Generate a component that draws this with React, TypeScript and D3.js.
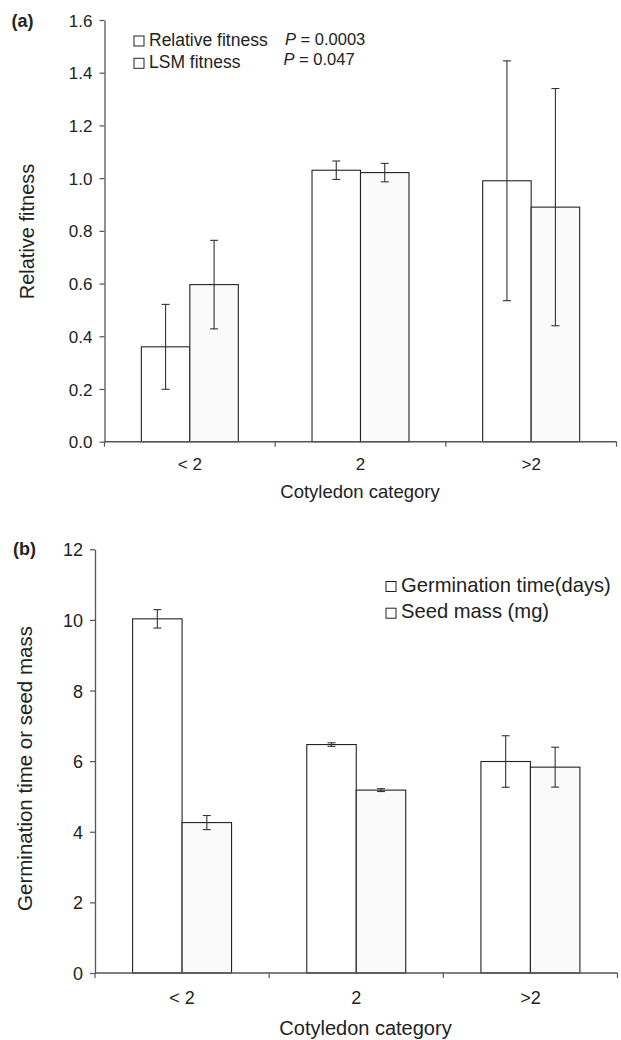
import React, { useRef, useEffect } from 'react'
import * as d3 from 'd3'

// categories on the x axis (shared by both panels)
const categories = ['< 2', '2', '>2']

// panel (a)
const relFitness = [0.36, 1.03, 0.99]
const relFitnessSE = [0.161, 0.035, 0.455]
const lsmFitness = [0.596, 1.021, 0.89]
const lsmFitnessSE = [0.168, 0.035, 0.45]
const fitnessTicks = [0, 0.2, 0.4, 0.6, 0.8, 1.0, 1.2, 1.4, 1.6]
const pValues = ['0.0003', '0.047']

// panel (b)
const germTime = [10.03, 6.47, 5.99]
const germTimeSE = [0.26, 0.05, 0.73]
const seedMass = [4.26, 5.18, 5.83]
const seedMassSE = [0.2, 0.04, 0.565]
const germTicks = [0, 2, 4, 6, 8, 10, 12]

const FONT = '"Liberation Sans", Arial, Helvetica, sans-serif'
const INK = '#222'
const AXIS = '#555'

const drawPanel = (svg, opts) => {
    const { x0, x1, yBottom, yTop, domain, ticks, fmt, series, tickFont, labelDy, title, titleX, titleY, titleSize, yTitle, yTitleX, yTitleY, yTitleSize } = opts

    const x = d3.scaleBand().domain(categories).range([x0, x1]).padding(0)
    const xSub = d3.scaleBand().domain(series.map(s => s.key)).range([0, x.bandwidth()]).paddingInner(0).paddingOuter(0.76)
    const y = d3.scaleLinear().domain(domain).range([yBottom, yTop])

    const g = svg.append('g')

    // bars
    series.forEach(s => {
        g.selectAll(null)
            .data(categories)
            .enter()
            .append('rect')
            .attr('x', c => x(c) + xSub(s.key))
            .attr('y', (c, i) => y(s.values[i]))
            .attr('width', xSub.bandwidth())
            .attr('height', (c, i) => y(0) - y(s.values[i]))
            .attr('fill', s.fill)
            .attr('stroke', INK)
            .attr('stroke-width', 1.1)
    })

    // error bars
    series.forEach(s => {
        categories.forEach((c, i) => {
            const cx = x(c) + xSub(s.key) + xSub.bandwidth() / 2
            const lo = y(s.values[i] - s.se[i])
            const hi = y(s.values[i] + s.se[i])
            const eg = g.append('g').attr('stroke', '#333').attr('stroke-width', 1.1)
            eg.append('line').attr('x1', cx).attr('x2', cx).attr('y1', lo).attr('y2', hi)
            eg.append('line').attr('x1', cx - 4).attr('x2', cx + 4).attr('y1', lo).attr('y2', lo)
            eg.append('line').attr('x1', cx - 4).attr('x2', cx + 4).attr('y1', hi).attr('y2', hi)
        })
    })

    // y axis
    const yAxis = g.append('g')
        .attr('transform', `translate(${x0},0)`)
        .call(d3.axisLeft(y).tickValues(ticks).tickFormat(fmt).tickSize(5).tickSizeOuter(0).tickPadding(7))
    yAxis.select('.domain').attr('stroke', AXIS).attr('stroke-width', 1.3)
    yAxis.selectAll('.tick line').attr('stroke', AXIS).attr('stroke-width', 1.2)
    yAxis.selectAll('.tick text')
        .attr('font-family', FONT)
        .attr('font-size', tickFont)
        .attr('fill', INK)
        .attr('dy', '0.36em')

    // x axis: baseline plus ticks at category boundaries
    const xAxis = g.append('g').attr('stroke', AXIS)
    xAxis.append('line')
        .attr('x1', x0).attr('x2', x1)
        .attr('y1', y(0)).attr('y2', y(0))
        .attr('stroke-width', 1.4)
    const bounds = categories.map(c => x(c)).concat([x1])
    xAxis.selectAll(null)
        .data(bounds)
        .enter()
        .append('line')
        .attr('x1', d => d).attr('x2', d => d)
        .attr('y1', y(0)).attr('y2', y(0) + 5)
        .attr('stroke-width', 1.2)

    g.selectAll(null)
        .data(categories)
        .enter()
        .append('text')
        .attr('x', c => x(c) + x.bandwidth() / 2)
        .attr('y', y(0) + labelDy)
        .attr('text-anchor', 'middle')
        .attr('font-family', FONT)
        .attr('font-size', tickFont)
        .attr('fill', INK)
        .text(c => c)

    // axis titles
    g.append('text')
        .attr('x', titleX)
        .attr('y', titleY)
        .attr('text-anchor', 'middle')
        .attr('font-family', FONT)
        .attr('font-size', titleSize)
        .attr('fill', INK)
        .text(title)

    g.append('text')
        .attr('transform', `translate(${yTitleX},${yTitleY}) rotate(-90)`)
        .attr('text-anchor', 'middle')
        .attr('font-family', FONT)
        .attr('font-size', yTitleSize)
        .attr('fill', INK)
        .text(yTitle)

    return g
}

const legend = (g, items, x, y0, step, size, fontSize) => {
    items.forEach((label, i) => {
        const by = y0 + i * step
        g.append('rect')
            .attr('x', x)
            .attr('y', by - size)
            .attr('width', size)
            .attr('height', size)
            .attr('fill', '#fff')
            .attr('stroke', INK)
            .attr('stroke-width', 1)
        g.append('text')
            .attr('x', x + size + 5)
            .attr('y', by)
            .attr('font-family', FONT)
            .attr('font-size', fontSize)
            .attr('fill', INK)
            .text(label)
    })
}

const App = () => {
    const chartRef = useRef(null)

    useEffect(() => {
        const svg = d3.select(chartRef.current)
        svg.selectAll('*').remove()

        // (a) relative fitness
        const ga = drawPanel(svg, {
            x0: 104.5, x1: 616.5, yBottom: 441.7, yTop: 20,
            domain: [0, 1.6], ticks: fitnessTicks, fmt: d3.format('.1f'),
            series: [
                { key: 'rel', values: relFitness, se: relFitnessSE, fill: '#fff' },
                { key: 'lsm', values: lsmFitness, se: lsmFitnessSE, fill: '#fafafa' }
            ],
            tickFont: 17, labelDy: 28.5,
            title: 'Cotyledon category', titleX: 360, titleY: 498, titleSize: 18.5,
            yTitle: 'Relative fitness', yTitleX: 33.5, yTitleY: 231.5, yTitleSize: 20
        })
        legend(ga, ['Relative fitness', 'LSM fitness'], 134, 46, 22.3, 10, 17.5)

        // P values next to the legend, tucked a little closer than the legend rows
        pValues.forEach((v, i) => {
            const t = ga.append('text')
                .attr('x', 285 - i * 1.5)
                .attr('y', 45 + i * 19.5)
                .attr('font-family', FONT)
                .attr('font-size', 16.5)
                .attr('fill', INK)
            t.append('tspan').attr('font-style', 'italic').text('P')
            t.append('tspan').text(` = ${v}`)
        })

        ga.append('text')
            .attr('x', 11.5)
            .attr('y', 27)
            .attr('font-family', FONT)
            .attr('font-size', 18)
            .attr('font-weight', 'bold')
            .attr('fill', INK)
            .text('(a)')

        // (b) germination time and seed mass
        const gb = drawPanel(svg, {
            x0: 95, x1: 617.5, yBottom: 973, yTop: 549.3,
            domain: [0, 12], ticks: germTicks, fmt: d3.format('d'),
            series: [
                { key: 'germ', values: germTime, se: germTimeSE, fill: '#fff' },
                { key: 'seed', values: seedMass, se: seedMassSE, fill: '#fafafa' }
            ],
            tickFont: 18, labelDy: 31,
            title: 'Cotyledon category', titleX: 365.5, titleY: 1035, titleSize: 20,
            yTitle: 'Germination time or seed mass', yTitleX: 32, yTitleY: 768.5, yTitleSize: 20.5
        })
        legend(gb, ['Germination time(days)', 'Seed mass (mg)'], 386, 591.5, 26.7, 10, 20.2)

        gb.append('text')
            .attr('x', 13)
            .attr('y', 555)
            .attr('font-family', FONT)
            .attr('font-size', 18)
            .attr('font-weight', 'bold')
            .attr('fill', INK)
            .text('(b)')
    }, [])

    return (
        <svg
            ref={chartRef}
            width={621}
            height={1040}
            style={{ position: 'absolute', left: 0, top: 0, background: '#fff' }}
        />
    )
}

export default App
